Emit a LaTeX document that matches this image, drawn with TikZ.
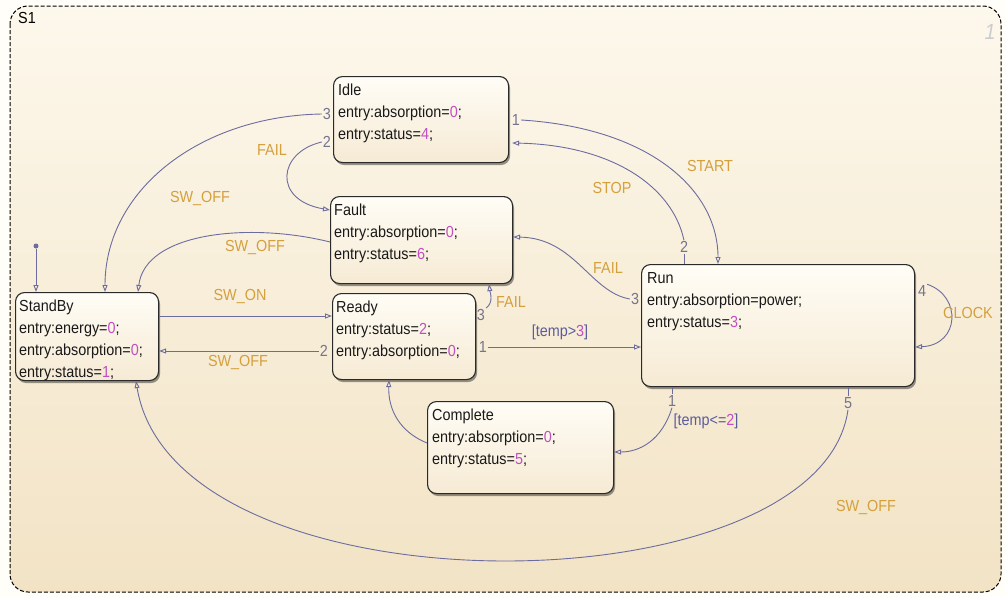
\documentclass[tikz,border=0pt]{standalone}
\usepackage{fontspec}
\setmainfont{Liberation Sans}[FakeStretch=0.9]
\usetikzlibrary{arrows.meta,shadows,calc}

\definecolor{pagebg}{HTML}{FFFEF9}
\definecolor{charttop}{HTML}{FDF8EC}
\definecolor{chartbot}{HTML}{F2E3C5}
\definecolor{boxtop}{HTML}{FFFDF6}
\definecolor{boxbot}{HTML}{F6EAD4}
\definecolor{boxline}{HTML}{2A2A2A}
\definecolor{transcol}{HTML}{6C6C9E}
\definecolor{lblcol}{HTML}{D4A03C}
\definecolor{valcol}{HTML}{C050C0}
\definecolor{portcol}{HTML}{74748E}
\definecolor{condcol}{HTML}{5C5C9C}

\newcommand\valnum[1]{\textcolor{valcol}{#1}}

\begin{document}
\begin{tikzpicture}[x=1pt,y=-1pt,
  every node/.style={font=\fontsize{16}{22}\selectfont},
  state/.style={draw=boxline, line width=1.1pt, rounded corners=9pt,
    top color=boxtop, bottom color=boxbot, anchor=north west, inner sep=0pt,
    drop shadow={shadow xshift=1.5pt, shadow yshift=-2.5pt, fill=black, opacity=0.4}},
  stxt/.style={anchor=north west, align=left, inner sep=0pt, text=black!90},
  trans/.style={draw=transcol, line width=0.9pt,
    -{Triangle[open, length=7pt, width=5pt]}},
  tick/.style={draw=transcol, line width=0.9pt},
  portnum/.style={text=portcol, inner sep=1pt},
  lbl/.style={text=lblcol, inner sep=1pt},
  cond/.style={text=condcol, inner sep=1pt}]

\useasboundingbox (0,0) rectangle (1005,597);
\fill[pagebg] (0,0) rectangle (1005,597);

% chart frame
\draw[dashed, dash pattern=on 4pt off 2pt, line width=1pt, rounded corners=18pt,
  top color=charttop, bottom color=chartbot] (10,6) rectangle (1001,592);
\node[anchor=north west, inner sep=0pt] (chartname) at (18,12) {S1};
\node[text=black!20, font=\fontsize{22}{22}\selectfont\itshape] (chartnum) at (990,32) {1};

% states
\node[state, minimum width=143pt, minimum height=88pt] (standby) at (15,292) {};
\node[stxt] (standby-t) at ($(standby.north west)+(4,8)$)
  {StandBy\\entry:energy=\valnum{0};\\entry:absorption=\valnum{0};\\entry:status=\valnum{1};};

\node[state, minimum width=175pt, minimum height=86pt] (idle) at (333,76) {};
\node[stxt] (idle-t) at ($(idle.north west)+(5,8)$)
  {Idle\\entry:absorption=\valnum{0};\\entry:status=\valnum{4};};

\node[state, minimum width=182pt, minimum height=87pt] (fault) at (330,196) {};
\node[stxt] (fault-t) at ($(fault.north west)+(4,8)$)
  {Fault\\entry:absorption=\valnum{0};\\entry:status=\valnum{6};};

\node[state, minimum width=143pt, minimum height=86pt] (ready) at (332,293) {};
\node[stxt] (ready-t) at ($(ready.north west)+(4,8)$)
  {Ready\\entry:status=\valnum{2};\\entry:absorption=\valnum{0};};

\node[state, minimum width=273pt, minimum height=122pt] (run) at (641,264) {};
\node[stxt] (run-t) at ($(run.north west)+(6,8)$)
  {Run\\entry:absorption=power;\\entry:status=\valnum{3};};

\node[state, minimum width=186pt, minimum height=92pt] (complete) at (427,401) {};
\node[stxt] (complete-t) at ($(complete.north west)+(5,8)$)
  {Complete\\entry:absorption=\valnum{0};\\entry:status=\valnum{5};};

% default transition
\node[circle, fill=transcol, inner sep=0pt, minimum size=5pt] (init) at (36,246) {};
\draw[trans] (init) -- (init |- standby.north);

% Idle transitions
\node[portnum] (i3) at (327,114) {3};
\draw[trans] (i3.west) .. controls (200,116) and (105,190) .. ($(standby.north west)+(90,0)$);
\node[lbl] (l-idle-off) at (200,199) {SW\_OFF};

\node[portnum] (i2) at (327,142) {2};
\draw[trans] (i2.west) .. controls (278,152) and (272,200) .. ($(fault.north west)+(0,14)$);
\node[lbl] (l-idle-fail) at (272,150) {FAIL};

\node[portnum] (i1) at (516,120) {1};
\draw[trans] (i1.east) .. controls (650,128) and (718,190) .. ($(run.north west)+(77,0)$);
\node[lbl] (l-start) at (710,166) {START};

% Fault to StandBy
\draw[trans] ($(fault.north west)+(0,46)$) .. controls (250,222) and (145,232) .. ($(standby.north west)+(123,0)$);
\node[lbl] (l-fault-off) at (255,248) {SW\_OFF};

% StandBy and Ready
\draw[trans] ($(standby.north east)+(0,24)$) -- ($(ready.north west)+(0,23)$);
\node[lbl] (l-on) at (240,297) {SW\_ON};

\node[portnum] (r2) at (324,351) {2};
\draw[trans] (r2.west) -- (r2.west -| standby.east);
\node[lbl] (l-ready-off) at (238,363) {SW\_OFF};

\node[portnum] (r3) at (481,315) {3};
\draw[trans] (r3.north east) .. controls (494,302) and (490,292) .. ($(fault.south west)+(159,0)$);
\node[lbl] (l-ready-fail) at (511,302) {FAIL};

\node[portnum] (r1) at (483,347) {1};
\draw[trans] (r1.east) -- (r1.east -| run.west);
\node[cond] (c-gt) at (560,332) {[temp>\valnum{3}]};

% Run transitions
\node[portnum] (n2) at (684,247) {2};
\draw[tick] (n2.south) -- (n2.south |- run.north);
\draw[trans] (n2.north) .. controls (672,185) and (610,145) .. ($(idle.north east)+(3,67)$);
\node[lbl] (l-stop) at (612,188) {STOP};

\node[portnum] (n3) at (635,299) {3};
\draw[trans] (n3.west) .. controls (590,292) and (575,238) .. ($(fault.north east)+(0,41)$);
\node[lbl] (l-run-fail) at (608,268) {FAIL};

\node[portnum] (n4) at (922,291) {4};
\draw[trans] (n4.north east) .. controls (962,296) and (960,345) .. ($(run.north east)+(0,83)$);
\node[lbl] (l-clock) at (968,313) {CLOCK};

\node[portnum] (n1) at (672,401) {1};
\draw[tick] (n1.north) -- (n1.north |- run.south);
\draw[trans] (n1.south) .. controls (662,440) and (640,452) .. ($(complete.north east)+(0,51)$);
\node[cond] (c-le) at (706,421) {[temp<=\valnum{2}]};

\node[portnum] (n5) at (848,403) {5};
\draw[tick] (n5.north) -- (n5.north |- run.south);
\draw[trans] (n5.south) .. controls (820,612) and (175,618) .. ($(standby.south west)+(121,0)$);
\node[lbl] (l-run-off) at (866,507) {SW\_OFF};

% Complete to Ready
\draw[trans] ($(complete.north west)+(0,42)$) .. controls (400,432) and (388,410) .. ($(ready.south west)+(57,0)$);

\end{tikzpicture}
\end{document}
